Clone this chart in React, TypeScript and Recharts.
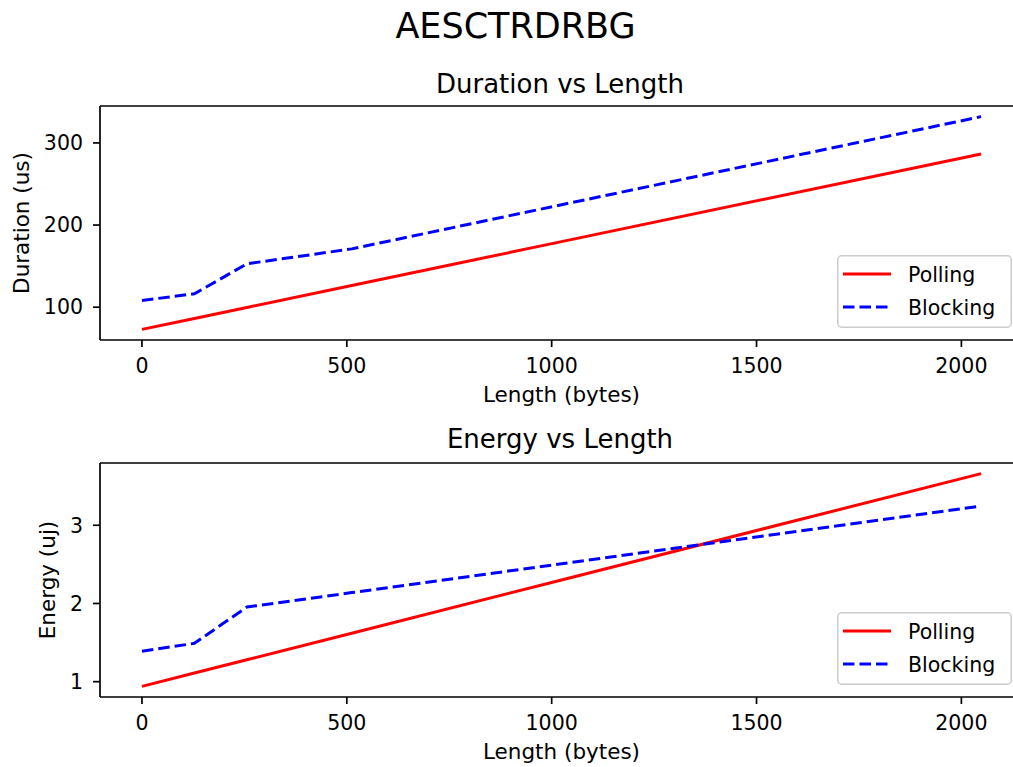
import React from 'react';
import { LineChart, Line, XAxis, YAxis, Legend, ReferenceLine } from 'recharts';

const FONT = '"DejaVu Sans", "Liberation Sans", sans-serif';

// ---- data ----
const lengths = [0, 128, 256, 512, 1024, 2048];
const durationPolling = [73, 86.3, 99.7, 126.4, 179.8, 286.6];
const durationBlocking = [108.2, 116.3, 152.8, 171, 224.7, 332];
const energyPolling = [0.94, 1.11, 1.28, 1.62, 2.3, 3.66];
const energyBlocking = [1.389, 1.49, 1.954, 2.139, 2.508, 3.246];

const xTicks = [0, 500, 1000, 1500, 2000];
const durationTicks = [100, 200, 300];
const energyTicks = [1, 2, 3];

const seriesNames = ['Polling', 'Blocking'];
const seriesColors = ['#ff0000', '#0000ff'];
const seriesDash = [undefined, '11.5 5'];

const suptitle = 'AESCTRDRBG';
const titles = ['Duration vs Length', 'Energy vs Length'];
const yLabels = ['Duration (us)', 'Energy (uj)'];
const xLabel = 'Length (bytes)';

const padDomain = (vals: number[]): [number, number] => {
  const lo = Math.min(...vals);
  const hi = Math.max(...vals);
  const r = hi - lo;
  return [lo - 0.05 * r, hi + 0.05 * r];
};

const xDomain = padDomain(lengths);

const durationData = lengths.map((x, i) => ({ x, Polling: durationPolling[i], Blocking: durationBlocking[i] }));
const energyData = lengths.map((x, i) => ({ x, Polling: energyPolling[i], Blocking: energyBlocking[i] }));

const LegendBox = () => (
  <svg width={175} height={73} style={{ display: 'block', overflow: 'visible' }}>
    <rect x={0.75} y={0.75} width={173.5} height={71.5} rx={4} fill="#ffffff" fillOpacity={0.8} stroke="#cccccc" strokeWidth={1.5} />
    {seriesNames.map((name, i) => (
      <g key={name}>
        <line x1={6} x2={54} y1={19 + i * 33} y2={19 + i * 33} stroke={seriesColors[i]} strokeWidth={3} strokeDasharray={seriesDash[i]} />
        <text x={71} y={26.5 + i * 33} fontSize={20.5} fontFamily={FONT} fill="#000">{name}</text>
      </g>
    ))}
  </svg>
);

type PanelProps = {
  data: { x: number; Polling: number; Blocking: number }[];
  yTicks: number[];
  yDomain: [number, number];
  yLabel: string;
  yLabelOffset: number;
  top: number;
  plotHeight: number;
};

const Panel = ({ data, yTicks, yDomain, yLabel, yLabelOffset, top, plotHeight }: PanelProps) => {
  const axisStyle = { stroke: '#000', strokeWidth: 1.7 };
  const tickStyle = { fontSize: 20.5, fill: '#000', fontFamily: FONT };
  return (
    <div style={{ position: 'absolute', left: 0, top }}>
      <LineChart width={1040} height={10 + plotHeight + 62 + 8} data={data} margin={{ top: 10, right: 17, bottom: 8, left: 0 }}>
        <XAxis
          dataKey="x"
          type="number"
          domain={xDomain}
          ticks={xTicks}
          allowDataOverflow
          tickSize={7}
          tickMargin={11}
          height={62}
          axisLine={axisStyle}
          tickLine={axisStyle}
          tick={tickStyle}
          label={{ value: xLabel, position: 'insideBottom', offset: 0, style: { fontSize: 21.5, fill: '#000', fontFamily: FONT } }}
        />
        <YAxis
          type="number"
          domain={yDomain}
          ticks={yTicks}
          allowDataOverflow
          width={100}
          tickSize={7}
          tickMargin={10}
          axisLine={axisStyle}
          tickLine={axisStyle}
          tick={tickStyle}
          label={{ value: yLabel, angle: -90, position: 'insideLeft', offset: yLabelOffset, style: { textAnchor: 'middle', fontSize: 21.5, fill: '#000', fontFamily: FONT } }}
        />
        <ReferenceLine y={yDomain[1]} stroke="#000" strokeWidth={1.7} />
        {seriesNames.map((name, i) => (
          <Line
            key={name}
            type="linear"
            dataKey={name}
            stroke={seriesColors[i]}
            strokeWidth={3}
            strokeDasharray={seriesDash[i]}
            dot={false}
            activeDot={false}
            isAnimationActive={false}
          />
        ))}
        <Legend
          layout="vertical"
          align="center"
          verticalAlign="middle"
          wrapperStyle={{ left: 837, top: 159, width: 175, height: 73 }}
          content={() => <LegendBox />}
        />
      </LineChart>
    </div>
  );
};

export default function App() {
  return (
    <div
      style={{
        position: 'absolute',
        left: 0,
        top: 0,
        width: 1013,
        height: 767,
        overflow: 'hidden',
        background: '#ffffff',
        fontFamily: FONT,
      }}
    >
      <svg width={1013} height={767} style={{ position: 'absolute', left: 0, top: 0 }}>
        <text x={515.5} y={37.5} textAnchor="middle" fontSize={35} fontFamily={FONT} fill="#000">{suptitle}</text>
        <text x={560} y={93} textAnchor="middle" fontSize={26} fontFamily={FONT} fill="#000">{titles[0]}</text>
        <text x={560} y={448.3} textAnchor="middle" fontSize={26} fontFamily={FONT} fill="#000">{titles[1]}</text>
      </svg>
      <Panel
        data={durationData}
        yTicks={durationTicks}
        yDomain={padDomain([...durationPolling, ...durationBlocking])}
        yLabel={yLabels[0]}
        yLabelOffset={21}
        top={96}
        plotHeight={234}
      />
      <Panel
        data={energyData}
        yTicks={energyTicks}
        yDomain={padDomain([...energyPolling, ...energyBlocking])}
        yLabel={yLabels[1]}
        yLabelOffset={47.5}
        top={453}
        plotHeight={234}
      />
    </div>
  );
}
